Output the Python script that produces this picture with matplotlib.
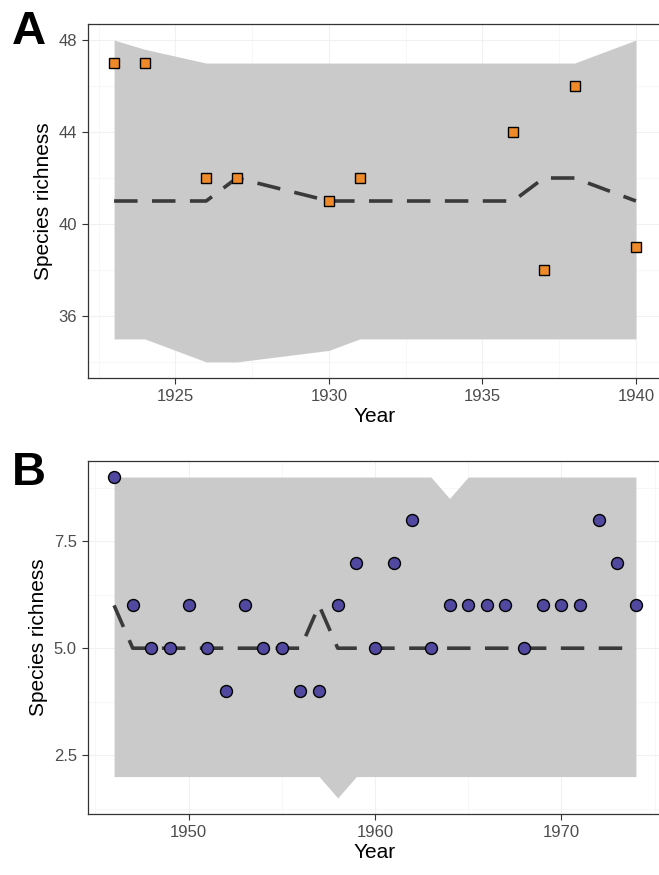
import numpy as np
import matplotlib
matplotlib.use("Agg")
import matplotlib.pyplot as plt
from matplotlib.ticker import MultipleLocator

plt.rcParams['font.family'] = ['Liberation Sans', 'DejaVu Sans']

# panel A data
years_a = [1923, 1924, 1926, 1927, 1930, 1931, 1936, 1937, 1938, 1940]
rich_a = [47, 47, 42, 42, 41, 42, 44, 38, 46, 39]
mid_a = [41, 41, 41, 42, 41, 41, 41, 42, 42, 41]
lo_a = [35, 35, 34, 34, 34.5, 35, 35, 35, 35, 35]
hi_a = [48, 47.6, 47, 47, 47, 47, 47, 47, 47, 48]

# panel B data
years_b = list(range(1946, 1975))
rich_b = [9, 6, 5, 5, 6, 5, 4, 6, 5, 5, 4, 4, 6, 7, 5, 7, 8, 5, 6, 6, 6, 6, 5, 6, 6, 6, 8, 7, 6]
mid_b = [6, 5, 5, 5, 5, 5, 5, 5, 5, 5, 5, 6, 5, 5, 5, 5, 5, 5, 5, 5, 5, 5, 5, 5, 5, 5, 5, 5, 5]
lo_b = [2] * 12 + [1.5] + [2] * 16
hi_b = [9] * 18 + [8.5] + [9] * 10

W, H = 659, 875
fig = plt.figure(figsize=(W / 100, H / 100), dpi=100)
fig.patch.set_facecolor('white')

ribbon = '#CACACA'
linec = '#3A3A3A'
grid = '#F1F1F1'
tickc = '#4D4D4D'


def style(ax):
    ax.set_facecolor('white')
    for s in ax.spines.values():
        s.set_color('#333333')
        s.set_linewidth(0.9)
    ax.grid(True, which='major', color=grid, linewidth=0.8, zorder=0)
    ax.grid(True, which='minor', color=grid, linewidth=0.4, zorder=0)
    ax.set_axisbelow(True)
    ax.tick_params(axis='both', which='major', length=4, width=0.8, color='#333333',
                   labelsize=12, labelcolor=tickc, pad=4)
    ax.tick_params(axis='both', which='minor', length=0)
    ax.set_xlabel('Year', fontsize=15, labelpad=2)
    ax.set_ylabel('Species richness', fontsize=15, labelpad=4)


def panel_box(top, bottom):
    return [88 / W, 1 - bottom / H, (662 - 88) / W, (bottom - top) / H]


# ---- A
axA = fig.add_axes(panel_box(24, 378))
axA.fill_between(years_a, lo_a, hi_a, color=ribbon, linewidth=0, zorder=1)
axA.plot(years_a, mid_a, color=linec, linewidth=2.6, dashes=(6.5, 4), zorder=2)
axA.plot(years_a, rich_a, 's', markersize=7.2, markerfacecolor='#EE8A2A',
         markeredgecolor='black', markeredgewidth=1.0, zorder=3)
axA.set_xlim(1922.15, 1940.85)
axA.set_ylim(33.3, 48.7)
axA.set_xticks([1925, 1930, 1935, 1940])
axA.set_yticks([36, 40, 44, 48])
axA.xaxis.set_minor_locator(MultipleLocator(2.5))
axA.yaxis.set_minor_locator(MultipleLocator(2))
style(axA)

# ---- B
axB = fig.add_axes(panel_box(461, 814))
axB.fill_between(years_b, lo_b, hi_b, color=ribbon, linewidth=0, zorder=1)
axB.plot(years_b, mid_b, color=linec, linewidth=2.6, dashes=(6.5, 4), zorder=2)
axB.plot(years_b, rich_b, 'o', markersize=8.6, markerfacecolor='#5148A0',
         markeredgecolor='black', markeredgewidth=1.0, zorder=3)
axB.set_xlim(1944.6, 1975.4)
axB.set_ylim(1.125, 9.375)
axB.set_xticks([1950, 1960, 1970])
axB.set_yticks([2.5, 5.0, 7.5])
axB.set_yticklabels(['2.5', '5.0', '7.5'])
axB.xaxis.set_minor_locator(MultipleLocator(5))
axB.yaxis.set_minor_locator(MultipleLocator(1.25))
style(axB)

fig.text(12 / W, 1 - 10 / H, 'A', fontsize=34, fontweight='bold', va='top', ha='left')
fig.text(12 / W, 1 - 451 / H, 'B', fontsize=34, fontweight='bold', va='top', ha='left')

fig.savefig('out.png', dpi=100)
